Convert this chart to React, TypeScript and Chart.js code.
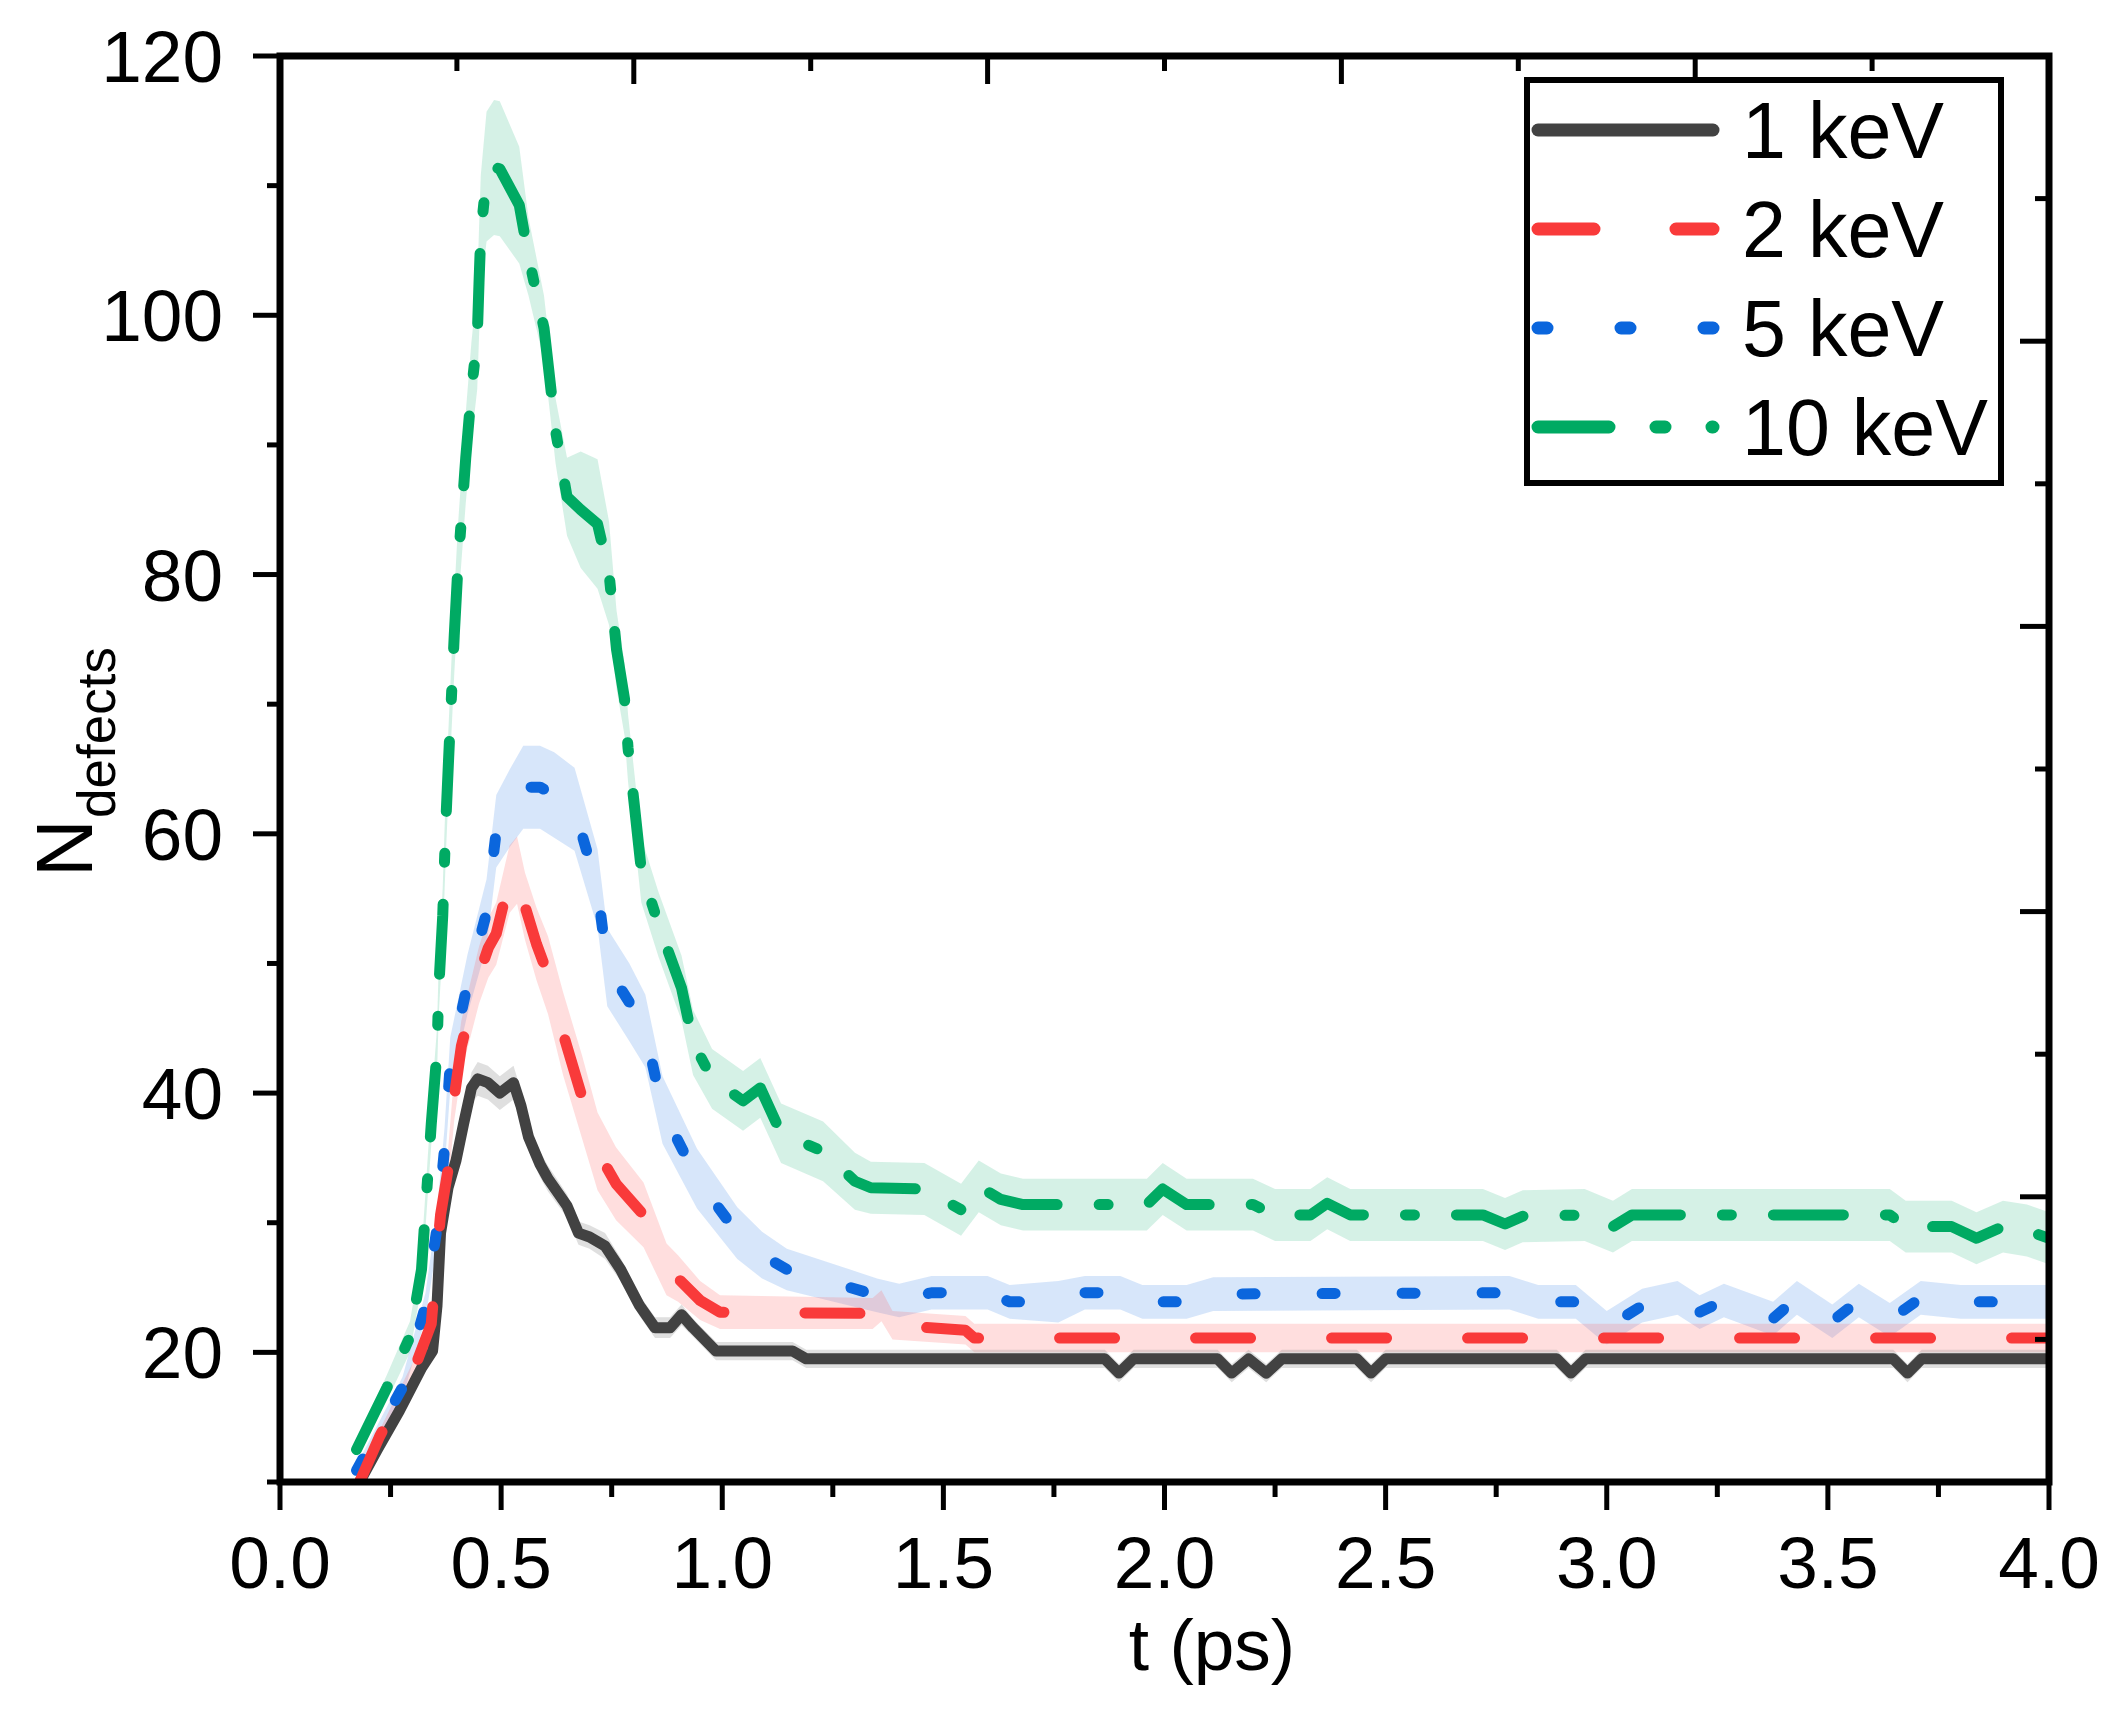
import React, { useEffect, useRef } from "react";
import { Chart, registerables, Plugin } from "chart.js";

Chart.register(...registerables);

// [t (ps), N defects, half width of the shaded band]
type Pt = [number, number, number];

const keV1: Pt[] = [
  [0.18, 10, 0.3], [0.22, 12.5, 0.4], [0.27, 15.5, 0.5], [0.32, 18.8, 0.6],
  [0.345, 20.1, 0.6], [0.355, 23.6, 0.8], [0.363, 29.2, 0.8], [0.38, 32.7, 0.8],
  [0.398, 34.8, 0.9], [0.415, 37.6, 1.0], [0.433, 40.4, 1.2], [0.447, 41.1, 1.3],
  [0.47, 40.8, 1.3], [0.497, 40.0, 1.3], [0.528, 40.8, 1.3], [0.545, 39.0, 1.2],
  [0.562, 36.6, 1.0], [0.588, 34.5, 1.0], [0.606, 33.4, 1.0], [0.649, 31.3, 0.9],
  [0.675, 29.2, 0.9], [0.7, 28.9, 0.9], [0.735, 28.2, 1.0], [0.77, 26.4, 0.9],
  [0.813, 23.6, 0.8], [0.848, 21.9, 0.8], [0.882, 21.9, 0.8], [0.908, 22.9, 0.8],
  [0.934, 21.9, 0.7], [0.986, 20.1, 0.7], [1.159, 20.1, 0.7], [1.19, 19.5, 0.7],
  [1.865, 19.5, 0.7], [1.897, 18.4, 0.7], [1.93, 19.5, 0.7], [2.12, 19.5, 0.7],
  [2.152, 18.4, 0.7], [2.19, 19.5, 0.7], [2.23, 18.4, 0.7], [2.265, 19.5, 0.7],
  [2.435, 19.5, 0.7], [2.467, 18.4, 0.7], [2.5, 19.5, 0.7], [2.887, 19.5, 0.7],
  [2.919, 18.4, 0.7], [2.952, 19.5, 0.7], [3.648, 19.5, 0.7], [3.68, 18.4, 0.7],
  [3.712, 19.5, 0.7], [4.0, 19.5, 0.7],
];

const keV2: Pt[] = [
  [0.18, 10, 0.3], [0.225, 13.5, 0.5], [0.3, 18.4, 0.8], [0.342, 22.2, 1.0],
  [0.355, 27.5, 1.2], [0.363, 30.6, 1.3], [0.38, 34.1, 1.5], [0.394, 39.7, 1.8],
  [0.41, 43.6, 2.0], [0.45, 49.1, 2.2], [0.471, 51.2, 2.3], [0.489, 52.3, 2.4],
  [0.519, 56.5, 2.6], [0.536, 57.2, 2.6], [0.554, 54.4, 2.6], [0.58, 51.5, 2.8],
  [0.606, 49.1, 3.0], [0.64, 44.6, 3.2], [0.683, 39.7, 3.2], [0.718, 35.5, 3.0],
  [0.76, 33.0, 2.8], [0.822, 30.6, 2.5], [0.874, 26.4, 2.0], [0.9, 25.7, 1.8],
  [0.95, 24.0, 1.5], [0.995, 23.1, 1.3], [1.34, 23.0, 1.2], [1.36, 23.6, 1.2],
  [1.385, 22.1, 1.1], [1.55, 21.7, 1.1], [1.57, 21.1, 1.1], [4.0, 21.1, 1.1],
];

const keV5: Pt[] = [
  [0.173, 10.9, 0.4], [0.277, 17.3, 0.8], [0.329, 23.6, 1.0], [0.355, 29.6, 1.3],
  [0.372, 35.7, 1.6], [0.385, 42.3, 2.0], [0.424, 48.4, 2.3], [0.467, 53.9, 2.6],
  [0.489, 60.2, 2.8], [0.52, 62.0, 3.0], [0.55, 63.6, 3.2], [0.588, 63.6, 3.2],
  [0.62, 63.0, 3.3], [0.666, 61.9, 3.2], [0.718, 55.8, 3.0], [0.74, 49.7, 3.0],
  [0.79, 47.0, 3.0], [0.826, 44.8, 2.8], [0.865, 38.7, 2.6], [0.943, 33.4, 2.3],
  [1.034, 29.2, 2.0], [1.09, 27.5, 1.8], [1.146, 26.4, 1.6], [1.289, 25.0, 1.4],
  [1.35, 24.4, 1.3], [1.4, 24.0, 1.3], [1.473, 24.6, 1.3], [1.6, 24.6, 1.3],
  [1.65, 23.9, 1.3], [1.76, 23.9, 1.6], [1.82, 24.6, 1.3], [1.9, 24.6, 1.3],
  [1.95, 23.9, 1.3], [2.05, 23.9, 1.3], [2.11, 24.5, 1.3], [2.78, 24.6, 1.3],
  [2.845, 23.9, 1.3], [2.93, 23.9, 1.3], [3.0, 21.9, 1.3], [3.08, 23.6, 1.3],
  [3.16, 24.2, 1.3], [3.21, 23.1, 1.3], [3.265, 24.0, 1.3], [3.376, 22.6, 1.3],
  [3.43, 24.2, 1.3], [3.51, 22.4, 1.3], [3.57, 24.0, 1.3], [3.64, 22.5, 1.3],
  [3.71, 24.2, 1.3], [3.8, 23.9, 1.3], [4.0, 23.9, 1.3],
];

const keV10: Pt[] = [
  [0.173, 12.5, 0.6], [0.242, 17.3, 1.0], [0.294, 21.2, 1.2], [0.32, 26.4, 1.3],
  [0.329, 31.0, 1.4], [0.342, 37.6, 1.6], [0.355, 43.2, 1.8], [0.359, 48.1, 2.0],
  [0.368, 53.7, 2.2], [0.372, 57.9, 2.4], [0.376, 61.7, 2.5], [0.381, 65.6, 2.6],
  [0.394, 75.3, 3.0], [0.402, 80.4, 3.2], [0.42, 89.0, 3.5], [0.433, 94.2, 3.8],
  [0.446, 98.3, 4.0], [0.45, 102.5, 4.2], [0.454, 106.3, 4.5], [0.467, 110.7, 5.0],
  [0.484, 111.4, 5.2], [0.497, 111.3, 5.2], [0.541, 108.5, 4.5], [0.562, 104.5, 3.0],
  [0.597, 99.0, 2.5], [0.61, 95.1, 2.5], [0.623, 91.1, 2.5], [0.649, 86.0, 3.0],
  [0.68, 85.0, 4.5], [0.718, 83.9, 5.0], [0.744, 80.1, 4.0], [0.761, 74.2, 3.0],
  [0.779, 70.4, 2.8], [0.787, 66.6, 2.6], [0.8, 62.6, 2.5], [0.817, 57.2, 2.5],
  [0.856, 53.0, 2.5], [0.908, 48.1, 2.5], [0.934, 43.9, 2.5], [0.977, 41.1, 2.3],
  [1.047, 39.4, 2.3], [1.086, 40.4, 2.3], [1.133, 36.9, 2.3], [1.228, 35.5, 2.3],
  [1.3, 33.2, 2.2], [1.336, 32.7, 2.0], [1.457, 32.6, 2.0], [1.54, 31.0, 2.0],
  [1.58, 32.8, 2.0], [1.63, 31.8, 2.0], [1.68, 31.4, 2.0], [1.96, 31.4, 2.0],
  [1.996, 32.6, 2.0], [2.05, 31.4, 2.0], [2.2, 31.4, 2.0], [2.25, 30.6, 2.0],
  [2.33, 30.6, 2.0], [2.368, 31.5, 2.0], [2.42, 30.6, 2.0], [2.72, 30.6, 2.0],
  [2.77, 29.9, 2.0], [2.81, 30.5, 2.0], [2.95, 30.6, 2.0], [3.014, 29.7, 2.0],
  [3.057, 30.6, 2.0], [3.64, 30.6, 2.0], [3.676, 29.7, 2.0], [3.78, 29.7, 2.0],
  [3.836, 28.8, 2.0], [3.896, 29.7, 2.0], [3.95, 29.4, 2.0], [4.0, 28.8, 2.0],
];

const seriesLabels = ["1 keV", "2 keV", "5 keV", "10 keV"];

const xTickValues = [0, 0.5, 1, 1.5, 2, 2.5, 3, 3.5, 4];
const xMinorTicks = [0.25, 0.75, 1.25, 1.75, 2.25, 2.75, 3.25, 3.75];
const yTickValues = [20, 40, 60, 80, 100, 120];
const yMinorTicks = [10, 30, 50, 70, 90, 110];
// top and right axes belong to a separate 0..1 frame
const frameMajor = [0.2, 0.4, 0.6, 0.8];
const frameMinor = [0.1, 0.3, 0.5, 0.7, 0.9];

const FONT = "Arial, 'Liberation Sans', sans-serif";

const styles = [
  { color: "#424242", band: "rgba(150,150,150,0.3)", dash: [] as number[], legendDash: [] as number[] },
  { color: "#f93a3a", band: "rgba(255,90,90,0.2)", dash: [55, 81], legendDash: [56, 82] },
  { color: "#0b66dd", band: "rgba(40,120,230,0.19)", dash: [13, 67], legendDash: [9, 74] },
  { color: "#00aa63", band: "rgba(30,180,120,0.19)", dash: [70, 42, 9, 42], legendDash: [71, 47, 9, 47, 9, 47] },
];

const allSeries = [keV1, keV2, keV5, keV10];

const framePlugin: Plugin<"line"> = {
  id: "frame",
  afterDraw(chart) {
    const { ctx, chartArea: a, scales } = chart;
    const sx = scales.x;
    const sy = scales.y;
    const sx2 = scales.x2;
    const sy2 = scales.y2;
    ctx.save();
    ctx.strokeStyle = "#000";
    ctx.fillStyle = "#000";
    ctx.lineCap = "butt";
    ctx.lineWidth = 5;
    const seg = (x0: number, y0: number, x1: number, y1: number) => {
      ctx.beginPath();
      ctx.moveTo(x0, y0);
      ctx.lineTo(x1, y1);
      ctx.stroke();
    };
    xTickValues.forEach((v) => {
      const p = sx.getPixelForValue(v);
      seg(p, a.bottom, p, a.bottom + 28);
    });
    xMinorTicks.forEach((v) => {
      const p = sx.getPixelForValue(v);
      seg(p, a.bottom, p, a.bottom + 15);
    });
    yTickValues.forEach((v) => {
      const p = sy.getPixelForValue(v);
      seg(a.left, p, a.left - 27, p);
    });
    yMinorTicks.forEach((v) => {
      const p = sy.getPixelForValue(v);
      seg(a.left, p, a.left - 13, p);
    });
    frameMajor.forEach((v) => {
      const px = sx2.getPixelForValue(v);
      seg(px, a.top, px, a.top + 28);
      const py = sy2.getPixelForValue(v);
      seg(a.right, py, a.right - 29, py);
    });
    frameMinor.forEach((v) => {
      const px = sx2.getPixelForValue(v);
      seg(px, a.top, px, a.top + 15);
      const py = sy2.getPixelForValue(v);
      seg(a.right, py, a.right - 14, py);
    });
    ctx.lineWidth = 7;
    ctx.strokeRect(a.left, a.top, a.right - a.left, a.bottom - a.top);

    // tick labels
    ctx.font = `73px ${FONT}`;
    ctx.textBaseline = "alphabetic";
    ctx.textAlign = "center";
    xTickValues.forEach((v) => {
      ctx.fillText(v.toFixed(1), sx.getPixelForValue(v), a.bottom + 106);
    });
    ctx.textAlign = "right";
    yTickValues.forEach((v) => {
      ctx.fillText(String(v), a.left - 57, sy.getPixelForValue(v) + 26);
    });

    // axis titles
    ctx.textAlign = "center";
    ctx.fillText("t (ps)", 1212, 1670);
    ctx.textAlign = "left";
    ctx.save();
    ctx.translate(92, 877);
    ctx.rotate(-Math.PI / 2);
    ctx.font = `80px ${FONT}`;
    ctx.fillText("N", 0, 0);
    ctx.font = `53px ${FONT}`;
    ctx.fillText("defects", 59, 23);
    ctx.restore();

    // legend
    const bx = 1527, by = 80, bw = 474, bh = 403;
    ctx.fillStyle = "#fff";
    ctx.fillRect(bx, by, bw, bh);
    ctx.lineWidth = 6;
    ctx.strokeStyle = "#000";
    ctx.strokeRect(bx, by, bw, bh);
    const rows = [130, 229, 328, 427];
    seriesLabels.forEach((label, i) => {
      const st = styles[i];
      ctx.save();
      ctx.strokeStyle = st.color;
      ctx.lineWidth = 13;
      ctx.lineCap = "round";
      ctx.setLineDash(st.legendDash);
      ctx.beginPath();
      ctx.moveTo(1538, rows[i]);
      ctx.lineTo(1713, rows[i]);
      ctx.stroke();
      ctx.restore();
      ctx.fillStyle = "#000";
      ctx.font = `79px ${FONT}`;
      ctx.fillText(label, 1742, rows[i] + 28);
    });
    ctx.restore();
  },
};

export default function App() {
  const canvasRef = useRef<HTMLCanvasElement | null>(null);

  useEffect(() => {
    if (!canvasRef.current) return;

    const lineOrder = [1, 2, 0, 3]; // first entry ends up on top
    const lines = lineOrder.map((i) => ({
      label: seriesLabels[i],
      data: allSeries[i].map(([t, n]) => ({ x: t, y: n })),
      borderColor: styles[i].color,
      borderWidth: 11,
      borderDash: styles[i].dash,
      borderCapStyle: "round" as const,
      borderJoinStyle: "round" as const,
      pointRadius: 0,
      fill: false,
      tension: 0,
    }));
    const bands = allSeries.flatMap((pts, i) => [
      {
        label: seriesLabels[i] + " low",
        data: pts.map(([t, n, e]) => ({ x: t, y: n - e })),
        borderColor: "transparent",
        borderWidth: 0,
        pointRadius: 0,
        fill: false,
      },
      {
        label: seriesLabels[i] + " high",
        data: pts.map(([t, n, e]) => ({ x: t, y: n + e })),
        borderColor: "transparent",
        borderWidth: 0,
        pointRadius: 0,
        fill: "-1",
        backgroundColor: styles[i].band,
      },
    ]);

    const hidden = {
      ticks: { display: false },
      grid: { display: false, drawTicks: false },
      border: { display: false },
    };

    const chart = new Chart(canvasRef.current, {
      type: "line",
      data: { datasets: [...lines, ...bands] as any },
      plugins: [framePlugin],
      options: {
        animation: false,
        responsive: true,
        maintainAspectRatio: false,
        devicePixelRatio: 1,
        layout: { padding: 0 },
        plugins: {
          legend: { display: false },
          tooltip: { enabled: false },
        },
        scales: {
          x: {
            type: "linear",
            position: "bottom",
            min: 0,
            max: 4,
            afterFit: (s: any) => {
              s.height = 235;
            },
            ...hidden,
          },
          y: {
            type: "linear",
            position: "left",
            min: 10,
            max: 120,
            afterFit: (s: any) => {
              s.width = 280;
            },
            ...hidden,
          },
          x2: {
            type: "linear",
            axis: "x",
            position: "top",
            min: 0,
            max: 1,
            afterFit: (s: any) => {
              s.height = 56;
            },
            ...hidden,
          },
          y2: {
            type: "linear",
            axis: "y",
            position: "right",
            min: 0,
            max: 1,
            afterFit: (s: any) => {
              s.width = 79;
            },
            ...hidden,
          },
        },
      },
    });

    return () => {
      chart.destroy();
    };
  }, []);

  return (
    <div
      style={{
        position: "absolute",
        left: 0,
        top: 0,
        width: 2128,
        height: 1717,
        background: "#fff",
      }}
    >
      <canvas ref={canvasRef} />
    </div>
  );
}
